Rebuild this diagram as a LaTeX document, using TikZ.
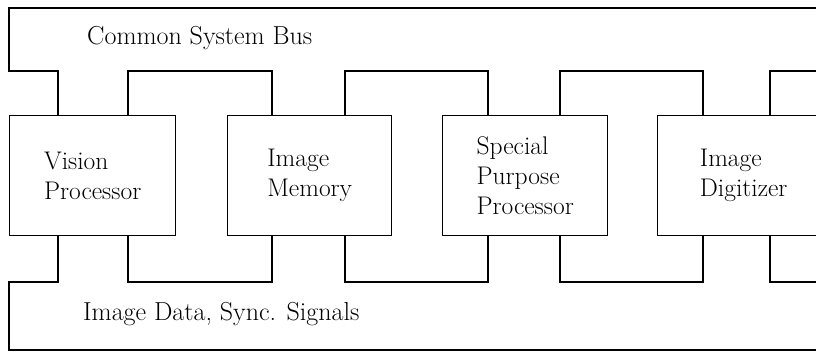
\documentclass[tikz,border=0pt]{standalone}
\tikzset{
  wire/.style={line width=1.4pt, line join=miter},
  unit/.style={draw, line width=1.4pt, anchor=north west, minimum width=#1,
    minimum height=120pt, inner sep=0pt, align=left,
    font=\fontsize{25.5}{30}\selectfont},
  buslabel/.style={anchor=base west, inner sep=0pt, font=\fontsize{26}{30}\selectfont}
}
\begin{document}
\begin{tikzpicture}[x=1pt,y=-1pt]
\clip (0,0) rectangle (816,351);
\fill[white] (0,0) rectangle (816,351);
% units
\node[unit=166pt] (vp) at (9,115) {Vision\\Processor};
\node[unit=164pt] (im) at (227,115) {Image\\Memory};
\node[unit=165pt] (sp) at (442,115) {Special\\Purpose\\Processor};
\node[unit=172pt] (dg) at (657,115) {Image\\Digitizer};
% common system bus
\draw[wire] (820,8) -- (9,8) -- (9,71) -- (58,71) -- (58,115);
\draw[wire] (128,115) -- (128,71) -- (272,71) -- (272,115);
\draw[wire] (345,115) -- (345,71) -- (488,71) -- (488,115);
\draw[wire] (560,115) -- (560,71) -- (703,71) -- (703,115);
\draw[wire] (770,115) -- (770,71) -- (820,71);
% image data bus
\draw[wire] (820,350) -- (9,350) -- (9,282) -- (58,282) -- (58,235);
\draw[wire] (128,235) -- (128,282) -- (272,282) -- (272,235);
\draw[wire] (345,235) -- (345,282) -- (488,282) -- (488,235);
\draw[wire] (560,235) -- (560,282) -- (703,282) -- (703,235);
\draw[wire] (770,235) -- (770,282) -- (820,282);
% labels
\node[buslabel] (csb) at (87,44) {Common System Bus};
\node[buslabel] (ids) at (83,320) {Image Data, Sync. Signals};
\end{tikzpicture}
\end{document}
